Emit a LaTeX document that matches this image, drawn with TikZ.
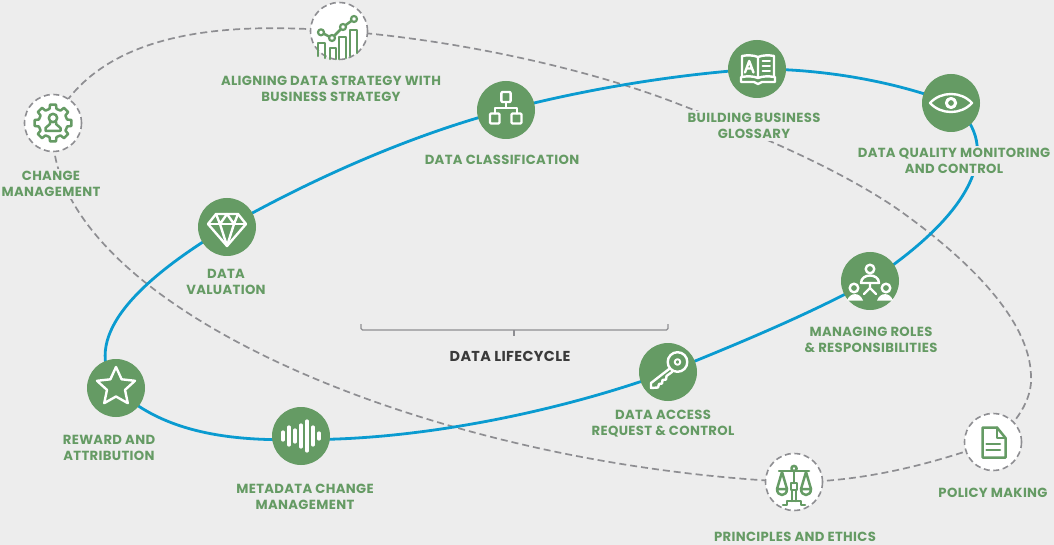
\documentclass[tikz,border=0pt]{standalone}
\usepackage{fontspec}
\setmainfont{Poppins}[LetterSpace=2.5]
\pgfdeclarelayer{bg}
\pgfsetlayers{bg,main}
\definecolor{pagebg}{HTML}{EDEDED}
\definecolor{leaf}{HTML}{659B64}
\definecolor{flow}{HTML}{0A9BD0}
\definecolor{dashgray}{HTML}{8E8E92}
\definecolor{inkdark}{HTML}{3A3A3A}
\tikzset{
  solidhub/.style={circle,fill=leaf,minimum size=58pt,inner sep=0pt},
  dashhub/.style={circle,fill=white,draw=dashgray,line width=1.6pt,dash pattern=on 6pt off 3.6pt,minimum size=57pt,inner sep=0pt},
  caption/.style={fill=pagebg,text=leaf,align=center,inner sep=2pt,font=\fontsize{13.2}{16}\selectfont\bfseries},
  blueline/.style={draw=flow,line width=2.8pt},
  grayline/.style={draw=dashgray,line width=1.7pt,dash pattern=on 7pt off 4pt},
  whiteicon/.style={draw=white,line width=2.4pt,line join=round,line cap=round},
  greenicon/.style={draw=leaf,line width=2.5pt,line join=round,line cap=round},
}
\begin{document}
\begin{tikzpicture}[x=1pt,y=-1pt]
\useasboundingbox (0,0) rectangle (1054,545);
% hubs
\node[dashhub] (strategy) at (339,31) {};
\node[dashhub] (change) at (53,123) {};
\node[dashhub] (principles) at (794,482) {};
\node[dashhub] (policy) at (993,442) {};
\node[solidhub] (glossary) at (757,69) {};
\node[solidhub] (eye) at (951,103) {};
\node[solidhub] (classif) at (506,110) {};
\node[solidhub] (valuation) at (227,227) {};
\node[solidhub] (reward) at (116,388) {};
\node[solidhub] (metadata) at (301,436) {};
\node[solidhub] (access) at (668,372) {};
\node[solidhub] (roles) at (870,281) {};
% captions
\node[caption] at (331,89) {ALIGNING DATA STRATEGY WITH\\BUSINESS STRATEGY};
\node[caption] at (51,184) {CHANGE\\MANAGEMENT};
\node[caption] at (502,160) {DATA CLASSIFICATION};
\node[caption] at (754,126) {BUILDING BUSINESS\\GLOSSARY};
\node[caption] at (954,161) {DATA QUALITY MONITORING\\AND CONTROL};
\node[caption] at (226,282) {DATA\\VALUATION};
\node[caption] at (109,448) {REWARD AND\\ATTRIBUTION};
\node[caption] at (305,497) {METADATA CHANGE\\MANAGEMENT};
\node[caption] at (663,424) {DATA ACCESS\\REQUEST \& CONTROL};
\node[caption] at (871,340) {MANAGING ROLES\\\& RESPONSIBILITIES};
\node[caption] at (795,537) {PRINCIPLES AND ETHICS};
\node[caption] at (993,493) {POLICY MAKING};
\node[caption,text=inkdark,fill=none,font=\fontsize{14.4}{16}\selectfont\bfseries] (lifecycle) at (510,356) {DATA LIFECYCLE};
% bracket
\coordinate (brL) at (361,324);
\coordinate (brR) at (668,324);
\coordinate (brM) at (514,330);
\draw[draw=dashgray,line width=1.1pt,rounded corners=1.5pt] (brL) -- (361,330) -- (668,330) -- (brR);
\draw[draw=dashgray,line width=1.1pt] (brM) -- (514,336);
% connectors
\begin{pgfonlayer}{bg}
\fill[pagebg] (0,0) rectangle (1054,545);
\draw[grayline] (strategy.center) .. controls (225,22) and (100,30) .. (change.center);
\draw[grayline] (change.center) .. controls (40,300) and (420,465) .. (principles.center);
\draw[grayline] (principles.center) .. controls (860,482) and (930,465) .. (policy.center);
\coordinate (g1) at (1031,375);
\coordinate (g2) at (896,208);
\coordinate (g3) at (681,105);
\draw[grayline] (policy.center) .. controls (1015,425) and (1033,400) .. (g1)
  .. controls (1029,320) and (970,260) .. (g2)
  .. controls (840,170) and (760,135) .. (g3)
  .. controls (580,65) and (440,38) .. (strategy.center);
\draw[blueline] (glossary.center) .. controls (820,69) and (890,80) .. (eye.center);
\draw[blueline] (eye.center) .. controls (1000,140) and (985,205) .. (roles.center);
\draw[blueline] (roles.center) .. controls (810,314) and (735,345) .. (access.center);
\draw[blueline] (access.center) .. controls (565,410) and (420,441) .. ([yshift=-3.5pt]metadata.center);
\draw[blueline] ([yshift=-3.5pt]metadata.center) .. controls (240,441) and (165,436) .. (reward.center);
\draw[blueline] (reward.center) .. controls (82,340) and (130,285) .. (valuation.center);
\draw[blueline] (valuation.center) .. controls (310,180) and (410,135) .. (classif.center);
\draw[blueline] (classif.center) .. controls (590,88) and (680,74) .. (glossary.center);
\end{pgfonlayer}
% ---- icons
% eye
\begin{scope}[shift={(eye.center)},whiteicon]
\draw (-21,0) .. controls (-10,-12) and (10,-12) .. (21,0) .. controls (10,12) and (-10,12) .. (-21,0) -- cycle;
\draw[line width=3pt] (0,0) circle (4.6);
\end{scope}
% book
\begin{scope}[shift={(glossary.center)},whiteicon]
\draw (1,-12) .. controls (-4,-14) and (-10,-14) .. (-15,-13) -- (-15,8) .. controls (-10,7) and (-4,7) .. (1,9) .. controls (6,7) and (12,7) .. (17,8) -- (17,-13) .. controls (12,-14) and (6,-14) .. (1,-12) -- (1,9);
\draw (-16,8) -- (-16,13) -- (-3,13) -- (1,15) -- (5,13) -- (18,13) -- (18,8);
\draw (-12,3.5) -- (-7.8,-8) -- (-3.5,3.5) (-10,-.5) -- (-5.5,-.5);
\draw[line width=1.9pt] (5.5,-8) -- (13,-8) (5.5,-3) -- (13,-3) (5.5,2) -- (13,2);
\end{scope}
% org chart
\begin{scope}[shift={(classif.center)},whiteicon]
\draw[rounded corners=1pt] (-4.6,-18) rectangle (4.6,-8);
\draw[rounded corners=1pt] (-16,3.5) rectangle (-6.5,13.5);
\draw[rounded corners=1pt] (5.5,3.5) rectangle (15.5,13.5);
\draw (0,-8) -- (0,-2) (-11,3.5) -- (-11,-2) -- (11,-2) -- (11,3.5);
\end{scope}
% diamond
\begin{scope}[shift={(valuation.center)},whiteicon]
\draw (-11,-13) -- (11,-13) -- (19,-3) -- (0,19) -- (-19,-3) -- cycle;
\draw (-19,-3) -- (19,-3);
\draw (-11,-13) -- (-7,-3) -- (0,-13) -- (7,-3) -- (11,-13);
\draw (-7,-3) -- (0,19) -- (7,-3);
\end{scope}
% star
\begin{scope}[shift={(reward.center)},whiteicon]
\draw (0,-21) -- (5.6,-8.7) -- (19,-7.2) -- (9,1.9) -- (11.8,15.2) -- (0,8.5) -- (-11.8,15.2) -- (-9,1.9) -- (-19,-7.2) -- (-5.6,-8.7) -- cycle;
\end{scope}
% wave
\begin{scope}[shift={(metadata.center)},whiteicon,line width=3.2pt]
\draw (-18,-4) -- (-18,4) (-12,-9) -- (-12,9) (-6,-6) -- (-6,6) (0,-11) -- (0,11) (6,-15) -- (6,15) (12,-9) -- (12,9) (18,-3) -- (18,3);
\end{scope}
% key
\begin{scope}[shift={(access.center)},whiteicon]
\draw (5,-6) -- (-17,11) -- (-17,16) -- (-10,15.5) -- (-9,12) -- (-6,11.5) -- (-5.5,8) -- (-2,7.5) -- (-1.5,4) -- (4,0);
\filldraw[fill=leaf] (9.5,-10) circle (9.8);
\draw[line width=1.9pt] (9.5,-10) circle (2.8);
\end{scope}
% roles
\begin{scope}[shift={(roles.center)},whiteicon]
\draw (0,-12) circle (4.3);
\draw (-9,2) .. controls (-9,-8) and (9,-8) .. (9,2) -- cycle;
\draw (0,2) -- (0,7) (-6,13) -- (0,7) -- (6,13);
\draw (-16,7) circle (4.3);
\draw (16,7) circle (4.3);
\fill[white,draw=none] (-23,19.5) .. controls (-20,11) and (-10,11) .. (-7,19.5) -- cycle;
\fill[white,draw=none] (7,19.5) .. controls (10,11) and (20,11) .. (23,19.5) -- cycle;
\end{scope}
% chart
\begin{scope}[shift={(strategy.center)},greenicon]
\draw (-21,25) -- (-21,12) -- (-14,12) -- (-14,27);
\draw (-9,28) -- (-9,17) -- (-3,17) -- (-3,28);
\draw (0,28) -- (0,6) -- (7,6) -- (7,27);
\draw (11,25) -- (11,-1) -- (18,-1) -- (18,22);
\draw (-18,1.3) -- (-7,7) -- (4,-4) -- (15,-12);
\foreach \p in {(-18,1.3),(-7,7),(4,-4),(15,-12)}{\filldraw[fill=white,line width=2.2pt] \p circle (3);}
\end{scope}
% gear
\begin{scope}[shift={(change.center)},greenicon]
\draw (22:14.5) \foreach \a in {45,90,...,360}{ -- ({\a-14}:14.5) -- ({\a-9}:18.7) -- ({\a+9}:18.7) -- ({\a+14}:14.5) } -- cycle;
\draw (0,-5) circle (4.2);
\draw (-3,-1) -- (-3,1) -- (-7.5,5) -- (-7.5,8) -- (7.5,8) -- (7.5,5) -- (3,1) -- (3,-1);
\end{scope}
% scales
\begin{scope}[shift={(principles.center)},greenicon]
\draw (-15,-11) -- (15,-11);
\draw (0,-13.5) circle (2.6);
\draw (0,-11) -- (0,1);
\draw (-2.8,1) rectangle (2.8,8);
\draw (-2,8) -- (-2,19) (2,8) -- (2,19);
\draw (-7,19) -- (7,19) -- (7,23) -- (11,23) (-7,19) -- (-7,23) -- (-11,23);
\draw (-12,-10) -- (-17,7) (-12,-10) -- (-7,7);
\draw (12,-10) -- (17,7) (12,-10) -- (7,7);
\draw (-17,7) -- (-7,7) .. controls (-7,15) and (-17,15) .. (-17,7);
\draw (17,7) -- (7,7) .. controls (7,15) and (17,15) .. (17,7);
\end{scope}
% document
\begin{scope}[shift={(policy.center)},greenicon]
\draw (-10.5,-14.5) -- (4,-14.5) -- (12.5,-4) -- (12.5,15.5) -- (-10.5,15.5) -- cycle;
\draw (4,-14.5) -- (4,-4) -- (12.5,-4);
\draw (-6.5,2) -- (7,2) (-6.5,8) -- (7,8);
\end{scope}
\end{tikzpicture}
\end{document}
